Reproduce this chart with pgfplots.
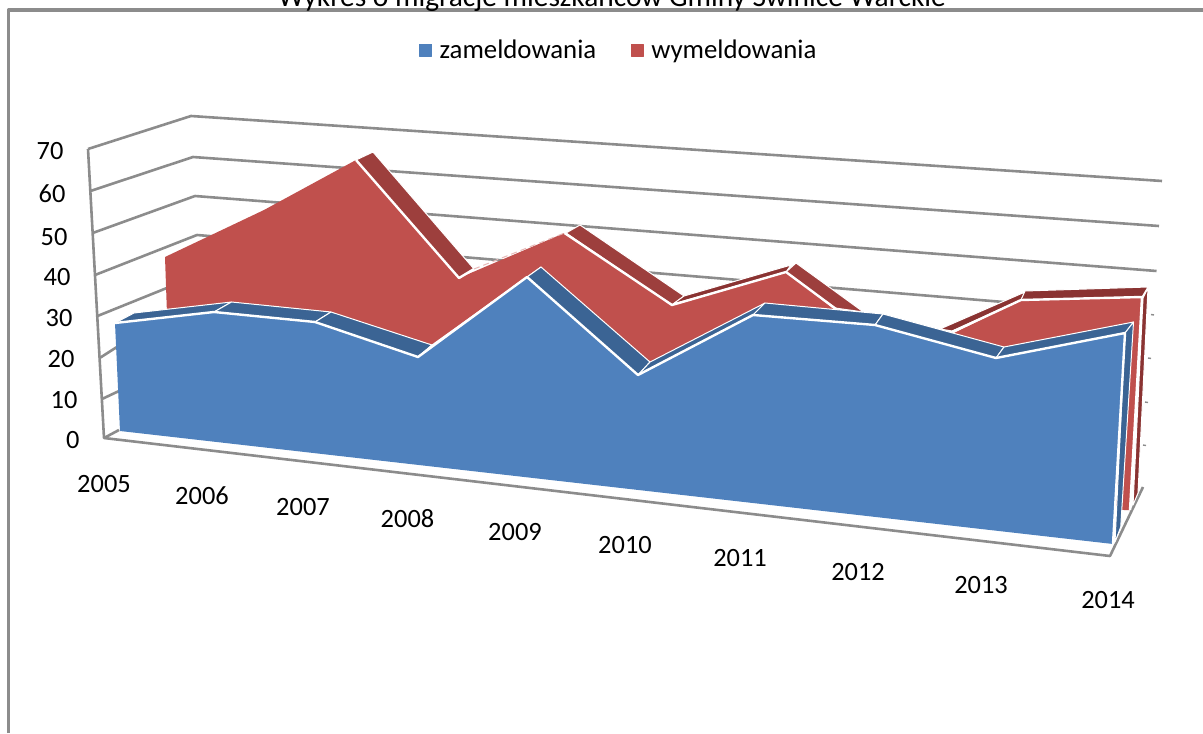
\documentclass[border=0pt]{standalone}
\usepackage{fontspec}
\setmainfont{Carlito}
\usepackage{pgfplots}
\pgfplotsset{compat=1.18}
\definecolor{blueF}{HTML}{4F81BD}
\definecolor{blueD}{HTML}{3B6494}
\definecolor{redF}{HTML}{C0504D}
\definecolor{redD}{HTML}{9D3F3D}
\definecolor{redE}{HTML}{8A3332}
\definecolor{gridc}{HTML}{8C8C8C}
\begin{document}
\begin{tikzpicture}
\useasboundingbox (0,0) rectangle (601.5pt,366.5pt);
\begin{axis}[
  at={(0,0)}, anchor=south west,
  scale only axis, width=601.5pt, height=366.5pt,
  xmin=0, xmax=1203, ymin=0, ymax=733, y dir=reverse,
  hide axis, clip=true,
  every axis plot/.append style={line join=round, forget plot},
  legend columns=2,
  legend style={draw=none, fill=none, font=\fontsize{13.4pt}{15pt}\selectfont,
    at={(axis cs:620,50.5)}, anchor=center,
    /tikz/every odd column/.append style={column sep=2pt},
    /tikz/every even column/.append style={column sep=15.5pt}},
]
% frame
\addplot[gridc, line width=1.7pt] coordinates {(8.5,733) (8.5,10) (1203,10)};
% walls and gridlines
\addplot[gridc, line width=1.3pt] coordinates {(88,149) (104,438) (1110,556) (1143,487)};
\addplot[gridc, line width=1.3pt] coordinates {(104,438) (119,430)};
\addplot[gridc, line width=1.3pt] coordinates {(88,149) (191,116) (1162,181)};
\addplot[gridc, line width=1.3pt] coordinates {(90.4,191) (193,157) (1159,226)};
\addplot[gridc, line width=1.3pt] coordinates {(92.7,233) (195,196) (1156.5,271)};
\addplot[gridc, line width=1.3pt] coordinates {(95,275) (197,235) (1100,310)};
\addplot[gridc, line width=1.3pt] coordinates {(97.5,316) (199,275) (400,290)};
\addplot[gridc, line width=1.3pt] coordinates {(99.7,358) (120,345)};
\addplot[gridc, line width=1.3pt] coordinates {(102,399) (119,391)};
\addplot[gridc, line width=.7pt] coordinates {(1151,314.5) (1154,315)};
\addplot[gridc, line width=.7pt] coordinates {(1148,358) (1151,358.5)};
\addplot[gridc, line width=.7pt] coordinates {(1145,402) (1148,402.5)};
\addplot[gridc, line width=.7pt] coordinates {(1143,445) (1146,445.5)};
% wymeldowania: side faces
\addplot[fill=redD, draw=white, line width=.5pt] coordinates {(356,160) (373,152) (474,269) (459,278)} --cycle;
\addplot[fill=redD, draw=white, line width=.5pt] coordinates {(566,233) (580,225) (684,296) (672,305)} --cycle;
\addplot[fill=redD, draw=white, line width=.5pt] coordinates {(786,272) (796,263) (863.5,312) (835,308)} --cycle;
\addplot[fill=redE, draw=white, line width=.5pt] coordinates {(673,304) (684,296) (791,265) (786,272)} --cycle;
\addplot[fill=redE, draw=white, line width=.5pt] coordinates {(940,329) (1025,292) (1021,300) (952,331)} --cycle;
\addplot[fill=redE, draw=white, line width=.5pt] coordinates {(1025,291) (1148,287) (1142,297) (1021,300)} --cycle;
\addplot[fill=redE, draw=white, line width=.5pt] coordinates {(1148,288) (1143,298) (1133,505) (1138,493)} --cycle;
\addplot[fill=redF, draw=none] coordinates {(165,257) (264,210) (356,160) (459,278) (564.5,233) (672,305) (786,272) (880,345) (950,335) (1021,300) (1142,297) (1130,510) (1124,510) (170,400)} --cycle;
\addplot[white, line width=1.2pt] coordinates {(356,160) (459,278) (474,269)};
\addplot[white, line width=1.2pt] coordinates {(564.5,233) (672,305) (786,272) (840,312)};
\addplot[white, line width=1.2pt] coordinates {(950,333) (1021,300) (1142,297) (1130,510)};
\addplot[redF!40, line width=.5pt, densely dashed] coordinates {(474,269) (564.5,233)};
% zameldowania: side faces
\addplot[fill=blueD, draw=white, line width=.5pt] coordinates {(115,323) (134,313) (231.5,302) (214,312)} --cycle;
\addplot[fill=blueD, draw=white, line width=.5pt] coordinates {(214,312) (231.5,302) (331,312) (315,322)} --cycle;
\addplot[fill=blueD, draw=white, line width=.5pt] coordinates {(315,322) (331,312) (432,345) (418,357)} --cycle;
\addplot[fill=blueD, draw=white, line width=.5pt] coordinates {(418,357) (432,345) (541,267) (527,277)} --cycle;
\addplot[fill=blueD, draw=white, line width=.5pt] coordinates {(527,277) (541,267) (650,362) (638,375)} --cycle;
\addplot[fill=blueD, draw=white, line width=.5pt] coordinates {(638,375) (650,362) (765,303) (753,315)} --cycle;
\addplot[fill=blueD, draw=white, line width=.5pt] coordinates {(753,315) (765,303) (883,314) (875,325)} --cycle;
\addplot[fill=blueD, draw=white, line width=.5pt] coordinates {(875,325) (883,314) (1004,347) (996,358)} --cycle;
\addplot[fill=blueD, draw=white, line width=.5pt] coordinates {(996,358) (1004,347) (1133.5,322) (1125,333)} --cycle;
\addplot[fill=blueD, draw=white, line width=.5pt] coordinates {(1125,333) (1133.5,322) (1120.7,527) (1115,542)} --cycle;
\addplot[fill=blueF, draw=none] coordinates {(115,323) (214,312) (315,322) (418,357) (527,277) (638,375) (753,315) (875,325) (996,358) (1125,333) (1113,544) (120,431)} --cycle;
\addplot[white, line width=1.2pt] coordinates {(115,323) (214,312) (315,322) (418,357) (527,277) (638,375) (753,315) (875,325) (996,358) (1125,333) (1113,544)};
% legend
\addlegendimage{only marks, mark=square*, mark size=3pt, color=blueF}
\addlegendentry{zameldowania}
\addlegendimage{only marks, mark=square*, mark size=3pt, color=redF}
\addlegendentry{wymeldowania}
% labels
\begin{scope}[every node/.style={font=\fontsize{13.2pt}{15pt}\selectfont, inner sep=0pt, anchor=center}]
\node at (axis cs:612,-3.5) {\fontsize{14.7pt}{16pt}\selectfont Wykres o migracje mieszkańców Gminy Świnice Warckie};
\node at (axis cs:50,151) {70};
\node at (axis cs:52,194) {60};
\node at (axis cs:54,237) {50};
\node at (axis cs:57,277) {40};
\node at (axis cs:59,318) {30};
\node at (axis cs:61,359) {20};
\node at (axis cs:64,400) {10};
\node at (axis cs:72.7,440) {0};
\node at (axis cs:104,484) {2005};
\node at (axis cs:202,496) {2006};
\node at (axis cs:303,507) {2007};
\node at (axis cs:407.5,519) {2008};
\node at (axis cs:515,532) {2009};
\node at (axis cs:625,545) {2010};
\node at (axis cs:740,558) {2011};
\node at (axis cs:858,572) {2012};
\node at (axis cs:981,585) {2013};
\node at (axis cs:1108,600) {2014};
\end{scope}
\end{axis}
\end{tikzpicture}
\end{document}
